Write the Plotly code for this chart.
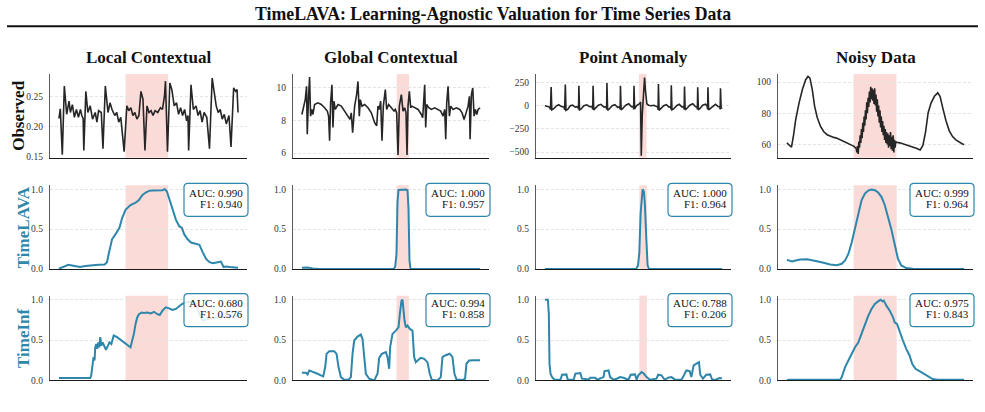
import plotly.graph_objects as go

# ---------------- data ----------------
col_titles = ["Local Contextual", "Global Contextual", "Point Anomaly", "Noisy Data"]
row_labels = ["Observed", "TimeLAVA", "TimeInf"]

# anomaly windows (time index)
anomaly_start = [198, 284, 285, 202]
anomaly_end = [325, 321, 308, 332]

lava_auc = [0.990, 1.000, 1.000, 0.999]
lava_f1 = [0.940, 0.957, 0.964, 0.964]
inf_auc = [0.680, 0.994, 0.788, 0.975]
inf_f1 = [0.576, 0.858, 0.206, 0.843]

# ---- Observed series ----
local_obs_t = [0,4,10,16,23,30,34,40,46,52,58,64,68,72,74,80,86,93,100,108,113,118,126,131,138,146,152,158,166,172,
               178,184,194,202,208,214,220,226,232,238,244,250,256,262,268,274,280,286,294,302,308,314,317,323,330,336,
               343,350,356,362,368,374,380,384,386,393,400,408,414,420,426,432,440,448,456,462,468,474,480,486,492,498,
               506,512,520,526,530,533]
local_obs_v = [0.214,0.230,0.154,0.268,0.221,0.243,0.224,0.237,0.216,0.229,0.216,0.229,0.219,0.214,0.161,0.259,0.224,
               0.235,0.213,0.224,0.208,0.227,0.224,0.164,0.268,0.224,0.240,0.229,0.219,0.224,0.208,0.216,0.159,0.235,
               0.227,0.232,0.219,0.224,0.213,0.219,0.259,0.246,0.161,0.235,0.224,0.227,0.219,0.227,0.224,0.232,0.229,
               0.251,0.276,0.159,0.273,0.262,0.235,0.240,0.221,0.232,0.219,0.229,0.210,0.219,0.161,0.270,0.229,0.235,
               0.219,0.227,0.208,0.224,0.216,0.164,0.281,0.257,0.235,0.224,0.229,0.213,0.221,0.205,0.219,0.167,0.265,
               0.259,0.262,0.224]

global_obs_t = [0,10,14,16,20,23,26,30,33,38,48,58,68,76,80,83,86,90,93,96,100,108,118,128,138,144,148,152,158,164,
                168,172,175,180,188,198,208,218,224,228,232,236,240,244,250,254,260,268,276,280,284,288,292,298,303,308,
                312,315,318,322,326,330,338,348,358,362,365,368,371,374,380,388,398,408,416,423,428,431,434,438,442,446,
                453,463,473,480,486,492,498,502,504,508,512,516,520,524,528,534]
global_obs_v = [8.36,9.27,10.08,7.15,9.47,10.65,8.26,8.67,8.36,8.97,9.07,8.97,8.77,8.57,8.26,6.75,9.07,10.18,7.56,9.17,
                8.67,8.97,8.87,8.57,8.26,8.06,8.46,7.25,8.87,9.58,10.38,8.26,9.27,8.87,8.97,8.77,8.46,7.86,7.66,8.87,
                8.67,9.17,6.75,8.87,9.88,8.67,8.97,8.77,8.57,8.67,8.46,5.88,8.87,9.58,8.57,8.77,8.46,5.88,8.87,9.78,
                8.77,8.87,8.77,8.67,8.36,8.16,9.17,10.18,7.56,8.97,8.77,8.67,8.77,8.67,8.57,8.26,8.67,6.85,9.07,10.08,
                8.26,8.87,8.67,8.77,8.67,8.46,8.06,8.46,8.87,9.47,6.85,9.58,9.98,8.26,8.67,8.36,8.67,8.77]

point_obs_t = [0,7,14,17,19,21,26,34,42,50,58,60,62,64,69,77,84,92,100,102,103,105,110,118,127,136,143,145,146,148,
               153,162,170,179,186,187,188,190,195,204,212,221,227,228,229,231,236,245,254,262,268,269,270,272,278,284,
               288,290,292,295,298,302,305,309,314,322,330,337,342,343,344,346,351,360,368,376,381,382,383,385,390,399,
               407,416,421,422,423,425,430,439,448,456,461,462,463,465,470,478,487,492,493,494,496,501,509,517,525,530,
               531,532,534,537]
point_obs_v = [0,-5,-15,-40,200,-45,-35,-5,10,-10,-15,-45,228,-50,-40,0,5,-15,-10,-40,214,-45,-35,0,10,-10,-10,-40,214,
               -45,-30,5,15,-15,-10,-40,243,-50,-35,0,10,-20,-10,-40,214,-45,-30,5,20,-10,-10,-40,214,-35,0,10,25,40,
               -539,-100,100,303,150,20,5,0,5,-10,-15,-45,232,-50,-35,0,10,-15,-10,-40,221,-45,-35,0,15,-15,-10,-40,
               206,-45,-30,5,20,-10,-15,-40,199,-45,-30,5,15,-10,-40,199,-45,-30,0,15,-10,-15,-40,188,-30,-20]

noisy_obs_t = [0,7,14,20,27,37,47,57,64,70,77,84,92,102,112,122,132,142,152,162,172,182,192,202,210,
               212,214,216,218,220,222,224,226,228,230,232,234,236,238,240,242,244,246,248,250,252,254,256,258,260,
               262,264,266,268,270,272,274,276,278,280,282,284,286,288,290,292,294,296,298,300,302,304,306,308,310,
               312,314,316,318,320,322,324,326,328,330,
               332,342,352,367,382,392,404,412,420,428,437,447,457,464,472,482,492,502,512,522,532,537]
noisy_obs_v = [61.1,59.4,58.3,65.7,76.2,86.7,95.2,101.5,103.6,102.5,95.2,84.6,77.3,71.6,68.2,66.3,65.3,64.6,64.0,63.0,
               61.9,60.8,59.8,59.0,57.5,
               55,59,54,62,58,66,61,70,64,74,68,78,72,82,76,87,80,90,84,94,87,97,89,96,88,
               95,86,96,85,92,81,89,78,85,74,82,71,78,68,75,66,72,63,70,61,68,60,67,58,66,
               59,68,57,65,56,66,55,63,58,62,
               61.5,61.1,60.4,59.8,58.7,57.7,56.6,59.4,67.8,80.4,86.7,90.9,93.1,90.9,83.6,75.2,68.8,65.1,63.0,61.5,
               60.4,60.0]

# ---- TimeLAVA scores ----
local_lava_t = [0,13,28,43,63,78,98,118,136,143,148,158,168,180,188,198,213,228,238,248,258,268,278,293,308,315,321,
                328,338,348,358,366,373,383,393,408,418,428,438,448,458,473,482,490,498,508,518,533]
local_lava_v = [0.004,0.025,0.053,0.041,0.025,0.037,0.049,0.053,0.057,0.086,0.189,0.373,0.434,0.516,0.639,0.742,0.803,
                0.832,0.865,0.926,0.959,0.980,0.984,0.984,0.988,1.0,0.975,0.885,0.742,0.619,0.537,0.516,0.434,0.373,
                0.332,0.320,0.303,0.209,0.127,0.086,0.074,0.086,0.094,0.025,0.033,0.025,0.025,0.016]

global_lava_t = [0,17,32,52,275,280,284,287,290,297,312,317,320,323,326,535]
global_lava_v = [0.016,0.020,0.008,0.0,0.0,0.025,0.189,0.84,0.992,0.996,0.996,0.988,0.762,0.107,0.0,0.0]

point_lava_t = [0,275,281,285,289,293,295,299,302,306,310,314,535]
point_lava_v = [0.0,0.0,0.04,0.2,0.7,0.99,1.0,0.967,0.8,0.4,0.05,0.0,0.0]

noisy_lava_t = [0,6,16,26,41,61,76,91,111,131,151,166,176,186,196,206,216,226,236,246,256,266,276,286,296,306,316,
                326,336,346,361,381,411,461,536]
noisy_lava_v = [0.115,0.107,0.094,0.107,0.119,0.123,0.115,0.098,0.078,0.057,0.049,0.066,0.107,0.189,0.332,0.516,0.721,
                0.865,0.947,0.984,0.996,0.988,0.959,0.906,0.803,0.660,0.496,0.311,0.127,0.045,0.012,0.004,0.004,0.0,0.0]

# ---- TimeInf scores ----
local_inf_t = [0,18,48,78,93,96,100,103,106,108,111,114,117,120,123,126,130,136,140,146,150,156,163,173,183,193,203,
               213,218,223,228,233,238,246,253,263,273,283,293,300,308,318,328,338,348,358,366,378,393,408,418,428,443,
               468,498,533]
local_inf_v = [0.029,0.029,0.029,0.029,0.029,0.062,0.165,0.288,0.247,0.41,0.45,0.39,0.47,0.41,0.535,0.43,0.47,0.41,
               0.38,0.43,0.47,0.45,0.556,0.535,0.502,0.47,0.44,0.41,0.494,0.576,0.70,0.78,0.82,0.84,0.835,0.84,0.83,
               0.85,0.82,0.81,0.864,0.905,0.893,0.872,0.885,0.918,0.946,0.967,0.975,0.946,0.82,0.74,0.76,0.78,0.79,0.80]

global_inf_t = [0,12,17,22,27,37,47,57,64,70,74,82,97,104,110,117,127,140,147,152,157,167,177,182,187,192,202,217,227,
                232,240,252,257,262,265,272,282,290,294,299,302,305,308,312,317,324,332,337,342,350,357,367,377,384,390,
                407,417,422,430,444,452,458,464,482,490,494,502,517,535]
global_inf_v = [0.095,0.095,0.074,0.123,0.115,0.103,0.082,0.062,0.049,0.165,0.329,0.362,0.362,0.329,0.165,0.041,0.008,
                0.008,0.041,0.329,0.494,0.543,0.568,0.514,0.247,0.082,0.021,0.0,0.082,0.28,0.329,0.35,0.288,0.144,0.412,
                0.576,0.617,0.658,0.82,0.988,1.0,0.864,0.745,0.658,0.679,0.638,0.617,0.288,0.226,0.255,0.28,0.267,0.226,
                0.082,0.008,0.0,0.041,0.288,0.309,0.33,0.288,0.082,0.012,0.004,0.021,0.206,0.247,0.251,0.251]

point_inf_t = [0,9,12,14,17,22,29,47,52,65,69,87,92,107,112,132,137,152,157,177,180,192,197,207,217,227,237,252,259,
               272,277,282,292,299,307,317,337,342,352,362,372,382,392,412,417,427,437,442,449,457,465,469,477,487,499,
               505,517,527,535]
point_inf_v = [1.0,1.0,0.823,0.206,0.082,0.041,0.008,0.008,0.07,0.074,0.012,0.008,0.082,0.09,0.021,0.012,0.033,0.033,
               0.008,0.041,0.115,0.123,0.041,0.008,0.021,0.041,0.033,0.008,0.07,0.074,0.008,0.062,0.103,0.082,0.041,
               0.008,0.021,0.07,0.062,0.008,0.033,0.041,0.012,0.008,0.041,0.123,0.115,0.041,0.185,0.206,0.226,0.07,
               0.021,0.07,0.074,0.008,0.012,0.029,0.025]

noisy_inf_t = [0,11,61,111,161,166,176,186,196,206,216,226,236,246,256,266,276,283,289,293,301,311,321,326,333,341,351,
               361,371,379,389,401,411,421,431,441,456,491,536]
noisy_inf_v = [0.004,0.008,0.008,0.008,0.008,0.041,0.165,0.247,0.33,0.41,0.47,0.576,0.70,0.80,0.885,0.947,0.979,1.0,
               0.979,0.988,0.926,0.864,0.782,0.72,0.70,0.597,0.494,0.391,0.309,0.206,0.144,0.115,0.09,0.062,0.033,
               0.016,0.008,0.008,0.008]

observed = [(local_obs_t, local_obs_v), (global_obs_t, global_obs_v),
            (point_obs_t, point_obs_v), (noisy_obs_t, noisy_obs_v)]
lava = [(local_lava_t, local_lava_v), (global_lava_t, global_lava_v),
        (point_lava_t, point_lava_v), (noisy_lava_t, noisy_lava_v)]
inf = [(local_inf_t, local_inf_v), (global_inf_t, global_inf_v),
       (point_inf_t, point_inf_v), (noisy_inf_t, noisy_inf_v)]

obs_yticks = [[0.15, 0.20, 0.25], [6, 8, 10], [-500, -250, 0, 250], [60, 80, 100]]
score_yticks = [0.0, 0.5, 1.0]

# ---------------- layout / styling ----------------
W, H = 985, 412
BLUE = "#2E86AB"
DARK = "#262626"
SHADE = "rgba(231,76,60,0.2)"
SERIF = "Liberation Serif, Times New Roman, serif"

col_px = [(50, 247), (293, 489), (536, 731), (778, 973)]
row_px = [(74, 159), (187, 272), (299, 385)]
obs_yrange = [[0.149, 0.288], [5.72, 10.84], [-560, 342], [51.6, 105.2]]
obs_fmt = [".2f", "d", "d", "d"]

fig = go.Figure()
shapes = []
annotations = []


def rrect(x0, y0, x1, y1, r):
    return (f"M {x0+r},{y1} L {x1-r},{y1} Q {x1},{y1} {x1},{y1-r} L {x1},{y0+r} "
            f"Q {x1},{y0} {x1-r},{y0} L {x0+r},{y0} Q {x0},{y0} {x0},{y0+r} "
            f"L {x0},{y1-r} Q {x0},{y1} {x0+r},{y1} Z")


for r in range(3):
    for c in range(4):
        k = r * 4 + c + 1
        sfx = "" if k == 1 else str(k)
        xa, ya = "x" + sfx, "y" + sfx
        if r == 0:
            t, v = observed[c]
            color, width = DARK, 1.6
        elif r == 1:
            t, v = lava[c]
            color, width = BLUE, 2.0
        else:
            t, v = inf[c]
            color, width = BLUE, 2.0
        fig.add_trace(go.Scatter(x=t, y=v, mode="lines", xaxis=xa, yaxis=ya,
                                 line=dict(color=color, width=width), showlegend=False,
                                 hoverinfo="skip"))
        L = max(t)
        x0p, x1p = col_px[c]
        y0p, y1p = row_px[r]
        fig.layout["xaxis" + sfx] = dict(
            domain=[x0p / W, x1p / W], range=[-0.05 * L, 1.05 * L], anchor=ya,
            showline=True, linecolor="#1a1a1a", linewidth=1.3, showticklabels=False,
            ticks="", showgrid=False, zeroline=False, fixedrange=True)
        if r == 0:
            yr, tv, fmt = obs_yrange[c], obs_yticks[c], obs_fmt[c]
        else:
            yr, tv, fmt = [0, 1.05], score_yticks, ".1f"
        fig.layout["yaxis" + sfx] = dict(
            domain=[1 - y1p / H, 1 - y0p / H], range=yr, anchor=xa,
            tickvals=tv, tickformat=fmt, showline=True, linecolor="#5a5a5a", linewidth=1.3,
            ticks="", ticklabelstandoff=4, showgrid=True, gridcolor="#e4e4e4",
            griddash="3px,2px", gridwidth=0.8, zeroline=False,
            tickfont=dict(family=SERIF, size=9.5, color="#333"), fixedrange=True)
        # anomaly shading
        shapes.append(dict(type="rect", xref=xa, yref=ya + " domain",
                           x0=anomaly_start[c], x1=anomaly_end[c], y0=0, y1=1,
                           fillcolor=SHADE, line=dict(width=0), layer="below"))
        if r > 0:
            auc = lava_auc[c] if r == 1 else inf_auc[c]
            f1 = lava_f1[c] if r == 1 else inf_f1[c]
            shapes.append(dict(type="path", xref=xa + " domain", yref=ya + " domain",
                               xsizemode="pixel", ysizemode="pixel", xanchor=1, yanchor=1,
                               path=rrect(-63, -31, 1, 2, 4),
                               fillcolor="rgba(255,255,255,0.85)",
                               line=dict(color=BLUE, width=1.2), layer="above"))
            for txt, dy in ((f"AUC: {auc:.3f}", -7.7), (f"F1: {f1:.3f}", -18.3)):
                annotations.append(dict(text=txt, xref=xa + " domain", yref=ya + " domain",
                                        x=1, y=1, xanchor="right", yanchor="middle",
                                        xshift=-3, yshift=dy, showarrow=False, borderpad=0,
                                        font=dict(family=SERIF, size=11, color="#111")))

# column titles
for c in range(4):
    x0p, x1p = col_px[c]
    annotations.append(dict(text=f"<b>{col_titles[c]}</b>", xref="paper", yref="paper",
                            x=(x0p + x1p) / 2 / W, y=1 - 57 / H, xanchor="center",
                            yanchor="middle", showarrow=False,
                            font=dict(family=SERIF, size=17, color="#111")))

# row labels
label_x = [19, 23, 23]
label_col = ["#111", BLUE, BLUE]
for r in range(3):
    y0p, y1p = row_px[r]
    annotations.append(dict(text=f"<b>{row_labels[r]}</b>", xref="paper", yref="paper",
                            x=label_x[r] / W, y=1 - (y0p + y1p) / 2 / H, xanchor="center",
                            yanchor="middle", textangle=-90, showarrow=False,
                            font=dict(family=SERIF, size=17, color=label_col[r])))

# main title
annotations.append(dict(text="<b>TimeLAVA: Learning-Agnostic Valuation for Time Series Data</b>",
                        xref="paper", yref="paper", x=0.5, y=1 - 13.5 / H,
                        xanchor="center", yanchor="middle", showarrow=False,
                        font=dict(family=SERIF, size=17.8, color="#111")))
shapes.append(dict(type="line", xref="paper", yref="paper", x0=7 / W, x1=978 / W,
                   y0=1 - 25.7 / H, y1=1 - 25.7 / H, line=dict(color="#111", width=2)))

fig.update_layout(width=W, height=H, margin=dict(l=0, r=0, t=0, b=0),
                  paper_bgcolor="white", plot_bgcolor="rgba(0,0,0,0)",
                  shapes=shapes, annotations=annotations, showlegend=False)

fig.write_html("out.html")
